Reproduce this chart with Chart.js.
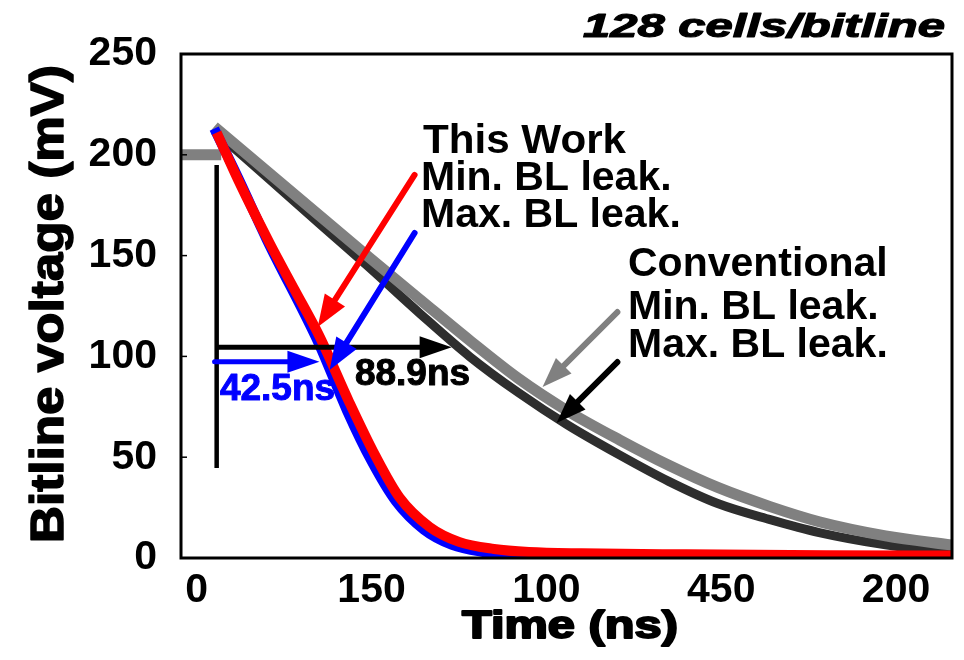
<!DOCTYPE html>
<html>
<head>
<meta charset="utf-8">
<script src="https://cdn.jsdelivr.net/npm/chart.js@4.4.1/dist/chart.umd.min.js"></script>
<style>
  html, body { margin: 0; padding: 0; background: #fff; }
  #wrap { width: 964px; height: 660px; }
</style>
</head>
<body>
<div id="wrap"><canvas id="blChart" width="964" height="660"></canvas></div>
<script>
// bitline discharge, 128 cells/bitline
const xTickValues = [0, 50, 100, 150, 200];
const xTickLabels = ['0', '150', '100', '450', '200'];
const yTickValues = [0, 50, 100, 150, 200, 250];

// precharge level before the read starts
const preT = [-4.5, 7];
const preV = [200, 200];

// This Work, min. BL leakage (red)
const workMinT = [5.7, 12, 20.9, 28, 35.1, 43.7, 51, 58, 66.6, 75, 85, 95, 110, 140, 180, 216];
const workMinV = [211, 187, 156, 133, 110, 77, 51, 30, 15.4, 8, 4.5, 3, 2.3, 1.8, 1.4, 1.2];

// This Work, max. BL leakage (blue)
const workMaxT = [5, 12, 20, 35, 43, 50, 57, 65, 73, 82, 92, 102, 120, 216];
const workMaxV = [213, 188, 158, 106, 73, 48, 28, 14, 6.5, 3, 1.2, 0.4, 0.1, 0];

// Conventional, min. BL leakage (gray)
const convMinT = [5, 20, 35, 49.4, 64, 78, 92, 106, 121, 135, 149, 164, 178, 197, 216];
const convMinV = [214, 192, 170, 149, 128, 108, 89, 73, 58.5, 46, 35, 25.5, 18, 11, 6.4];

// Conventional, max. BL leakage (dark)
const convMaxT = [5, 20, 35, 49.4, 64, 78, 92, 106, 121, 135, 149, 164, 178, 197, 216];
const convMaxV = [212, 189, 166, 144, 121, 100, 82, 66, 51, 38, 27, 19, 12.6, 6.5, 2.5];

function pts(t, v) {
    return t.map(function(x, i) { return { x: x, y: v[i] }; });
}

function line(data, color, width) {
    return {
        data: data,
        borderColor: color,
        borderWidth: width,
        pointRadius: 0,
        fill: false,
        cubicInterpolationMode: 'monotone'
    };
}

// text squeezed/stretched to a given width, optional extra weight
function fitText(ctx, text, x, y, font, width, align, heavy) {
    ctx.save();
    ctx.font = font;
    ctx.textBaseline = 'alphabetic';
    ctx.textAlign = 'left';
    const w0 = ctx.measureText(text).width;
    const w = width || w0;
    const left = align === 'center' ? x - w / 2 : x;
    ctx.translate(left, y);
    ctx.scale(w / w0, 1);
    ctx.fillText(text, 0, 0);
    if (heavy) {
        ctx.strokeStyle = ctx.fillStyle;
        ctx.lineWidth = heavy;
        ctx.lineJoin = 'round';
        ctx.strokeText(text, 0, 0);
    }
    ctx.restore();
}

function arrow(ctx, x1, y1, x2, y2, color, lw, headLen, headW, cap) {
    const ang = Math.atan2(y2 - y1, x2 - x1);
    const bx = x2 - Math.cos(ang) * headLen;
    const by = y2 - Math.sin(ang) * headLen;
    ctx.save();
    ctx.strokeStyle = color;
    ctx.fillStyle = color;
    ctx.lineWidth = lw;
    ctx.lineCap = cap || 'round';
    ctx.beginPath();
    ctx.moveTo(x1, y1);
    ctx.lineTo(bx + Math.cos(ang) * 2, by + Math.sin(ang) * 2);
    ctx.stroke();
    ctx.beginPath();
    ctx.moveTo(x2, y2);
    ctx.lineTo(bx - Math.sin(ang) * headW, by + Math.cos(ang) * headW);
    ctx.lineTo(bx + Math.sin(ang) * headW, by - Math.cos(ang) * headW);
    ctx.closePath();
    ctx.fill();
    ctx.restore();
}

const bold = '"Liberation Sans", Arial, sans-serif';

const annotate = {
    id: 'annotate',
    afterDatasetsDraw: function(chart) {
        const ctx = chart.ctx;
        const a = chart.chartArea;
        const x = chart.scales.x, y = chart.scales.y;

        // frame
        ctx.save();
        ctx.strokeStyle = '#000';
        ctx.lineWidth = 3;
        ctx.strokeRect(a.left, a.top, a.right - a.left, a.bottom - a.top);
        // small inward ticks on the left axis
        ctx.lineWidth = 1.5;
        [50, 100, 150, 200].forEach(function(v) {
            ctx.beginPath();
            ctx.moveTo(a.left, y.getPixelForValue(v));
            ctx.lineTo(a.left + 6, y.getPixelForValue(v));
            ctx.stroke();
        });
        // start marker
        ctx.lineWidth = 4.5;
        ctx.beginPath();
        ctx.moveTo(x.getPixelForValue(5.7), y.getPixelForValue(195));
        ctx.lineTo(x.getPixelForValue(5.7), y.getPixelForValue(44.6));
        ctx.stroke();
        ctx.restore();

        const P = function(t, v) { return [x.getPixelForValue(t), y.getPixelForValue(v)]; };
        let s, e;
        // delay arrows
        s = P(5.7, 104.6); e = P(72.9, 104.6);
        arrow(ctx, s[0], s[1], e[0], e[1], '#000', 5, 32, 11, 'butt');
        s = P(5.1, 97.4); e = P(35.1, 97.4);
        arrow(ctx, s[0], s[1], e[0], e[1], '#0000ff', 5, 32, 11, 'round');
        // pointer arrows
        s = P(62.3, 190); e = P(34.6, 114.6);
        arrow(ctx, s[0], s[1], e[0], e[1], '#ff0000', 6, 32, 12);
        s = P(62.3, 161.2); e = P(38, 93.3);
        arrow(ctx, s[0], s[1], e[0], e[1], '#0000ff', 6, 32, 12);
        s = P(120.3, 122); e = P(98.9, 84.8);
        arrow(ctx, s[0], s[1], e[0], e[1], '#808080', 6, 30, 11);
        s = P(120.3, 97.2); e = P(102.9, 67);
        arrow(ctx, s[0], s[1], e[0], e[1], '#000', 6, 30, 11);
    },
    afterDraw: function(chart) {
        const ctx = chart.ctx;
        ctx.save();
        ctx.fillStyle = '#000';
        const f41 = 'bold 41px ' + bold;
        fitText(ctx, 'This Work', 423, 153, f41, 203);
        fitText(ctx, 'Min. BL leak.', 421, 190, f41);
        fitText(ctx, 'Max. BL leak.', 421, 227, f41);
        fitText(ctx, 'Conventional', 628, 276, f41);
        fitText(ctx, 'Min. BL leak.', 628, 319, f41);
        fitText(ctx, 'Max. BL leak.', 628, 357, f41);
        fitText(ctx, '88.9ns', 355, 385, 'bold 36px ' + bold, 115, null, 1);
        ctx.fillStyle = '#0000ff';
        fitText(ctx, '42.5ns', 220, 400, 'bold 36px ' + bold, 115, null, 1);
        ctx.fillStyle = '#000';
        fitText(ctx, '128 cells/bitline', 583, 37, 'italic bold 34px ' + bold, 362, null, 1.2);
        fitText(ctx, 'Time (ns)', 570, 638, 'bold 39px ' + bold, 216, 'center', 2);
        ctx.translate(63, 304);
        ctx.rotate(-Math.PI / 2);
        fitText(ctx, 'Bitline voltage (mV)', 0, 0, 'bold 46px ' + bold, 478, 'center', 1.5);
        ctx.restore();
    }
};

const tickFont = { family: bold, size: 41, weight: 'bold' };

const ctx = document.getElementById('blChart').getContext('2d');
const blChart = new Chart(ctx, {
    type: 'line',
    data: {
        datasets: [
            line(pts(workMinT, workMinV), '#ff0000', 10),
            line(pts(workMaxT, workMaxV), '#0000ff', 10),
            line(pts(convMinT, convMinV), '#808080', 11),
            line(pts(convMaxT, convMaxV), '#2e2e2e', 9),
            line(pts(preT, preV), '#808080', 11)
        ]
    },
    options: {
        responsive: false,
        animation: false,
        devicePixelRatio: 1,
        layout: { padding: { top: 54, right: 12, left: 0, bottom: 0 } },
        plugins: { legend: { display: false }, tooltip: { enabled: false } },
        scales: {
            x: {
                type: 'linear',
                min: -4.5,
                max: 216,
                afterFit: function(s) { s.height = 102; },
                afterBuildTicks: function(s) { s.ticks = xTickValues.map(function(v) { return { value: v }; }); },
                grid: { display: false, drawTicks: false },
                border: { display: false },
                ticks: {
                    padding: 8,
                    color: '#000',
                    font: tickFont,
                    maxRotation: 0,
                    autoSkip: false,
                    callback: function(v) {
                        const i = xTickValues.indexOf(v);
                        return i >= 0 ? xTickLabels[i] : '';
                    }
                }
            },
            y: {
                min: 0,
                max: 250,
                afterFit: function(s) { s.width = 181; },
                afterBuildTicks: function(s) { s.ticks = yTickValues.map(function(v) { return { value: v }; }); },
                grid: { display: false, drawTicks: false },
                border: { display: false },
                ticks: { padding: 24, color: '#000', font: tickFont }
            }
        }
    },
    plugins: [annotate]
});
</script>
</body>
</html>
